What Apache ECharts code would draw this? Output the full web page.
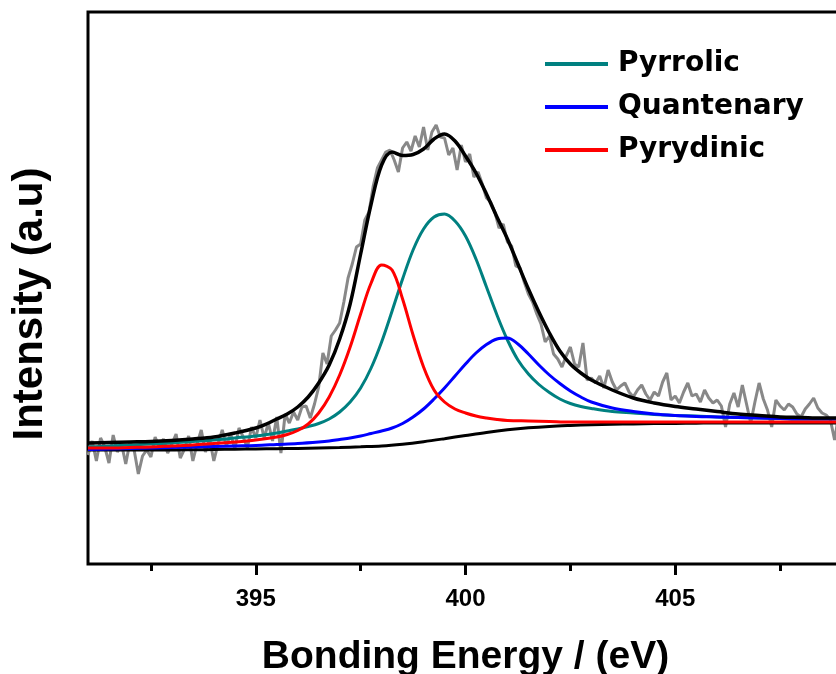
<!DOCTYPE html>
<html>
<head>
<meta charset="utf-8">
<script src="https://cdn.jsdelivr.net/npm/echarts@6/dist/echarts.min.js"></script>
<style>
  html, body { margin: 0; padding: 0; background: #fff; }
  #Chart { width: 836px; height: 674px; }
</style>
</head>
<body>
<div id="Chart"></div>
<script>
// tick labels of the energy axis
var majorTicks = [395, 400, 405];
var minorTicks = [392.5, 397.5, 402.5, 407.5];
var legendNames = ["Pyrrolic", "Quantenary", "Pyrydinic"];

// measured N 1s spectrum (binding energy, intensity)
var rawData = [
  [391.0,109],[391.1,123],[391.2,103],[391.3,126],[391.4,117],[391.5,101],[391.6,129],[391.7,112],[391.8,120],[391.9,100],
  [392.0,122],[392.1,114],[392.2,90],[392.3,108],[392.4,114],[392.5,107],[392.6,127],[392.7,117],[392.8,125],[392.9,111],
  [393.0,120],[393.1,130],[393.2,106],[393.3,115],[393.4,128],[393.5,103],[393.6,120],[393.7,134],[393.8,112],[393.9,125],
  [394.0,103],[394.1,120],[394.2,134],[394.3,118],[394.4,130],[394.5,115],[394.6,136],[394.7,127],[394.8,116],[394.9,137],
  [395.0,126],[395.1,144],[395.2,126],[395.3,141],[395.4,123],[395.5,147],[395.6,111],[395.7,150],[395.8,141],[395.9,152],
  [396.0,144],[396.1,157],[396.2,158],[396.3,146],[396.4,160],[396.5,177],[396.6,211],[396.7,200],[396.8,228],[396.9,234],
  [397.0,241],[397.1,262],[397.2,286],[397.3,300],[397.4,317],[397.5,320],[397.6,344],[397.7,352],[397.8,378],[397.9,396],
  [398.0,404],[398.1,412],[398.2,414],[398.3,404],[398.4,392],[398.5,416],[398.6,422],[398.7,413],[398.8,428],[398.9,417],
  [399.0,437],[399.1,414],[399.2,432],[399.3,439],[399.4,427],[399.5,426],[399.6,409],[399.7,416],[399.8,394],[399.9,419],
  [400.0,402],[400.1,410],[400.2,387],[400.3,392],[400.4,380],[400.5,366],[400.6,362],[400.7,352],[400.8,336],[400.9,340],
  [401.0,322],[401.1,318],[401.2,298],[401.3,296],[401.4,282],[401.5,270],[401.6,262],[401.7,250],[401.8,240],[401.9,222],
  [402.0,228],[402.1,210],[402.2,205],[402.3,197],[402.4,208],[402.5,217],[402.6,200],[402.7,197],[402.8,221],[402.9,184],
  [403.0,186],[403.1,181],[403.2,188],[403.3,176],[403.4,194],[403.5,182],[403.6,174],[403.7,178],[403.8,181],[403.9,172],
  [404.0,167],[404.1,174],[404.2,179],[404.3,170],[404.4,164],[404.5,172],[404.6,168],[404.7,182],[404.8,191],[404.9,164],
  [405.0,168],[405.1,161],[405.2,172],[405.3,181],[405.4,168],[405.5,170],[405.6,162],[405.7,174],[405.8,166],[405.9,161],
  [406.0,164],[406.1,158],[406.2,137],[406.3,160],[406.4,171],[406.5,157],[406.6,179],[406.7,160],[406.8,141],[406.9,162],
  [407.0,181],[407.1,165],[407.2,154],[407.3,137],[407.4,164],[407.5,158],[407.6,154],[407.7,160],[407.8,157],[407.9,150],
  [408.0,147],[408.1,155],[408.2,160],[408.3,166],[408.4,156],[408.5,151],[408.6,149],[408.7,144],[408.8,124],[408.9,150],
  [409.0,148]
];

// fitted envelope
var envelope = [
  [391,121],[391.5,121.5],[392,122],[392.5,122.5],[393,123.5],[393.5,125],[394,127],[394.5,131],[395,136],
  [395.25,140],[395.5,145],[395.75,150],[396,157],[396.25,167],[396.5,181],[396.75,199],[397,225],[397.25,260],
  [397.5,310],[397.75,360],[398,399],[398.25,412],[398.5,408.5],[398.75,409.5],[399,415],[399.25,425],[399.5,430],
  [399.75,423],[400,408],[400.25,391],[400.5,370],[400.75,347],[401,325],[401.25,300],[401.5,275],[401.75,252],
  [402,231],[402.25,213],[402.5,200],[402.75,191],[403,184],[403.5,174],[404,166],[404.5,161],[405,157.5],
  [405.5,155],[406,152.5],[406.5,150],[407,148.5],[407.5,147],[408,146.5],[408.5,146],[409,146]
];

// Shirley background
var background = [
  [391,114],[391.5,114],[392,114],[392.5,114],[393,114],[393.5,114.2],[394,114.5],[394.5,114.8],[395,115],
  [395.5,115.3],[396,115.6],[396.5,116],[397,116.5],[397.5,117.2],[398,118],[398.5,119.8],[399,122.3],[399.5,125.3],
  [400,128.5],[400.5,131.6],[401,134.2],[401.5,136.2],[402,137.6],[402.5,138.5],[403,139.2],[403.5,139.7],
  [404,140.1],[404.5,140.4],[405,140.6],[405.5,140.8],[406,141],[407,141],[408,141],[409,141]
];

var pyrrolic = [
  [391,117],[391.5,118],[392,119],[392.5,120],[393,121],[393.5,122.5],[394,124],[394.5,126],[395,128],
  [395.5,131],[395.75,133],[396,135],[396.25,137.5],[396.5,140.5],[396.75,145],[397,152],[397.25,162],[397.5,176],
  [397.75,196],[398,222],[398.25,253],[398.5,285],[398.75,314],[399,335],[399.25,347],[399.5,350],[399.75,343],
  [400,328],[400.25,305],[400.5,277],[400.75,249],[401,224],[401.25,204],[401.5,190],[401.75,179.5],[402,171.5],
  [402.25,165],[402.5,160.5],[402.75,157.5],[403,155.5],[403.5,152.5],[404,151],[404.5,149.5],[405,148.5],
  [405.5,148],[406,147],[406.5,146.5],[407,146],[407.5,145.5],[408,145],[408.5,145],[409,145]
];

var quaternary = [
  [391,114.5],[391.5,115],[392,115.5],[392.5,116],[393,116.5],[393.5,117],[394,117.5],[394.5,118],[395,118.5],
  [395.5,119.5],[396,120.5],[396.5,122],[396.75,123],[397,124.5],[397.25,126],[397.5,128],[397.75,130.5],[398,133],
  [398.25,136],[398.5,140.5],[398.75,147],[399,155],[399.25,165],[399.5,176],[399.75,188],[400,200],[400.25,211],
  [400.5,219.5],[400.75,225],[401,226],[401.25,220],[401.5,210],[401.75,199],[402,189],[402.25,180.5],[402.5,173],
  [402.75,167],[403,162],[403.5,156],[404,152.5],[404.5,150],[405,148.5],[405.5,147.5],[406,147],[406.5,146.5],
  [407,146],[407.5,145.5],[408,145],[408.5,145],[409,145]
];

var pyridinic = [
  [391,116],[391.5,116],[392,116.5],[392.5,117],[393,118],[393.5,119],[394,120.5],[394.5,122],[395,124],
  [395.5,127],[395.75,129.5],[396,133.5],[396.25,140],[396.5,151],[396.75,167],[397,189],[397.25,217],[397.5,250],
  [397.75,281],[398,299],[398.25,294],[398.5,265],[398.75,229],[399,197],[399.25,174],[399.5,162],[399.75,155],
  [400,151],[400.25,148],[400.5,146],[400.75,144.5],[401,143.5],[401.5,143],[402,142.5],[402.5,142],[403,142],
  [404,142],[405,142],[406,142],[407,142],[408,142],[409,142]
];

var font = "Liberation Sans";
var myChart = echarts.init(document.getElementById("Chart"));
var option = {
    animation: false,
    backgroundColor: "#fff",
    grid: {
        left: 88,
        right: -7,
        top: 12,
        bottom: 110,
        outerBoundsMode: "none",
        show: true,
        borderColor: "#000",
        borderWidth: 3,
        backgroundColor: "transparent"
    },
    legend: {
        data: legendNames,
        orient: "vertical",
        left: 540,
        top: 44,
        itemWidth: 63,
        itemHeight: 4,
        itemGap: 13,
        icon: "rect",
        textStyle: {
            fontFamily: "DejaVu Sans",
            fontWeight: "bold",
            fontSize: 28,
            lineHeight: 30,
            color: "#000",
            padding: [0, 0, 0, 5]
        }
    },
    xAxis: [
        {
            type: "value",
            min: 391,
            max: 409,
            name: "Bonding Energy / (eV)",
            nameLocation: "middle",
            nameGap: 74,
            nameTextStyle: {
                fontFamily: font,
                fontWeight: "bold",
                fontSize: 39,
                color: "#000"
            },
            axisLine: { show: false },
            splitLine: { show: false },
            axisTick: {
                customValues: majorTicks,
                length: 11,
                lineStyle: { color: "#000", width: 3 }
            },
            axisLabel: {
                customValues: majorTicks,
                margin: 23,
                fontFamily: font,
                fontWeight: "bold",
                fontSize: 24,
                color: "#000"
            }
        },
        {
            type: "value",
            min: 391,
            max: 409,
            position: "bottom",
            axisLine: { show: false },
            splitLine: { show: false },
            axisLabel: { show: false },
            axisTick: {
                customValues: minorTicks,
                length: 7,
                lineStyle: { color: "#000", width: 3 }
            }
        }
    ],
    yAxis: {
        type: "value",
        min: 0,
        max: 552,
        name: "Intensity (a.u)",
        nameLocation: "middle",
        nameGap: 37,
        nameTextStyle: {
            fontFamily: font,
            fontWeight: "bold",
            fontSize: 42,
            color: "#000",
            padding: [0, 32, 0, 0]
        },
        axisLine: { show: false },
        axisTick: { show: false },
        axisLabel: { show: false },
        splitLine: { show: false }
    },
    series: [
        {
            name: "raw",
            type: "line",
            data: rawData,
            showSymbol: false,
            lineStyle: { color: "#888", width: 3 },
            z: 1
        },
        {
            name: "background",
            type: "line",
            data: background,
            smooth: 0.35,
            showSymbol: false,
            lineStyle: { color: "#000", width: 3 },
            z: 2
        },
        {
            name: "Pyrrolic",
            type: "line",
            data: pyrrolic,
            smooth: 0.35,
            showSymbol: false,
            itemStyle: { color: "#008080" },
            lineStyle: { color: "#008080", width: 3 },
            z: 3
        },
        {
            name: "Quantenary",
            type: "line",
            data: quaternary,
            smooth: 0.35,
            showSymbol: false,
            itemStyle: { color: "#0000ff" },
            lineStyle: { color: "#0000ff", width: 3 },
            z: 4
        },
        {
            name: "Pyrydinic",
            type: "line",
            data: pyridinic,
            smooth: 0.35,
            showSymbol: false,
            itemStyle: { color: "#ff0000" },
            lineStyle: { color: "#ff0000", width: 3 },
            z: 5
        },
        {
            name: "envelope",
            type: "line",
            data: envelope,
            smooth: 0.35,
            showSymbol: false,
            lineStyle: { color: "#000", width: 3.5 },
            z: 6
        }
    ]
};
myChart.setOption(option);
window.addEventListener("resize", function () {
    myChart.resize();
});
</script>
</body>
</html>
